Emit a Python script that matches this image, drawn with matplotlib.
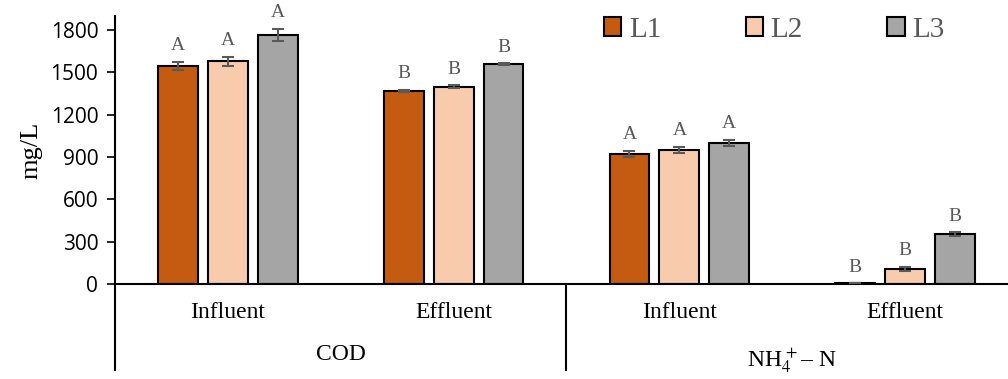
import numpy as np
import matplotlib.pyplot as plt
from matplotlib.patches import Patch

plt.rcParams['mathtext.fontset'] = 'stix'

# data: groups = COD influent, COD effluent, NH4-N influent, NH4-N effluent
sub_labels = ['Influent', 'Effluent', 'Influent', 'Effluent']
series = ['L1', 'L2', 'L3']
L1 = [1545, 1368, 921, 4]
L2 = [1578, 1398, 950, 106]
L3 = [1767, 1560, 1000, 354]
L1_err = [30, 10, 22, 0]
L2_err = [35, 10, 22, 15]
L3_err = [42, 5, 22, 12]
letters = ['A', 'B', 'A', 'B']
colors = ['#c55a11', '#f8cbad', '#a5a5a5']

serif = 'Liberation Serif'
gray = '#595959'

fig = plt.figure(figsize=(10.08, 3.79), dpi=100)
ax = fig.add_axes([0.114, 0.2507, 0.896, 0.707])

x = np.arange(len(sub_labels))
w = 0.177
off = 0.221
vals = [L1, L2, L3]
errs = [L1_err, L2_err, L3_err]
for i in range(3):
    pos = x + (i - 1) * off
    ax.bar(pos, vals[i], w, color=colors[i], edgecolor='black', linewidth=1.5,
           label=series[i], zorder=2)
    ax.errorbar(pos, vals[i], yerr=errs[i], fmt='none', ecolor=gray,
                elinewidth=1.5, capsize=4, capthick=1.5, zorder=3)
    for j in range(len(x)):
        ax.text(pos[j], vals[i][j] + errs[i][j] + 55, letters[j], ha='center',
                va='bottom', family=serif, fontsize=14, color=gray)

ax.set_xlim(-0.5, 3.5)
ax.set_ylim(0, 1900)
ax.set_yticks(np.arange(0, 1801, 300))
ax.tick_params(axis='y', labelsize=15, length=6, width=1.2, direction='out',
               pad=6)
for lab in ax.get_yticklabels():
    lab.set_family('Open Sans')
ax.set_xticks([])
ax.spines['top'].set_visible(False)
ax.spines['right'].set_visible(False)
ax.spines['left'].set_linewidth(1.5)
ax.spines['bottom'].set_linewidth(1.5)
ax.set_ylabel('mg/L', family=serif, fontsize=19, labelpad=6)

# multi-level category axis
trans = ax.get_xaxis_transform()
for xv in [-0.5, 1.5]:
    ax.plot([xv, xv], [0, -0.32], color='black', lw=1.5, transform=trans,
            clip_on=False)
for xi, lab in zip(x, sub_labels):
    ax.text(xi, -0.105, lab, transform=trans, ha='center', va='center',
            family=serif, fontsize=17)
ax.text(0.5, -0.265, 'COD', transform=trans, ha='center', va='center',
        family=serif, fontsize=17)
ax.text(2.5, -0.285, r'NH$_4^{\,+}$– N', transform=trans, ha='center',
        va='center', family=serif, fontsize=17)

handles = [Patch(facecolor=c, edgecolor='black', linewidth=1.5) for c in colors]
leg = fig.legend(handles, series, loc='center', bbox_to_anchor=(0.768, 0.922),
                 ncol=3, frameon=False, handlelength=0.6, handleheight=0.6,
                 handletextpad=0.25, columnspacing=2.9,
                 prop={'family': serif, 'size': 21})
for t in leg.get_texts():
    t.set_color(gray)

fig.savefig('out.png', dpi=100)
